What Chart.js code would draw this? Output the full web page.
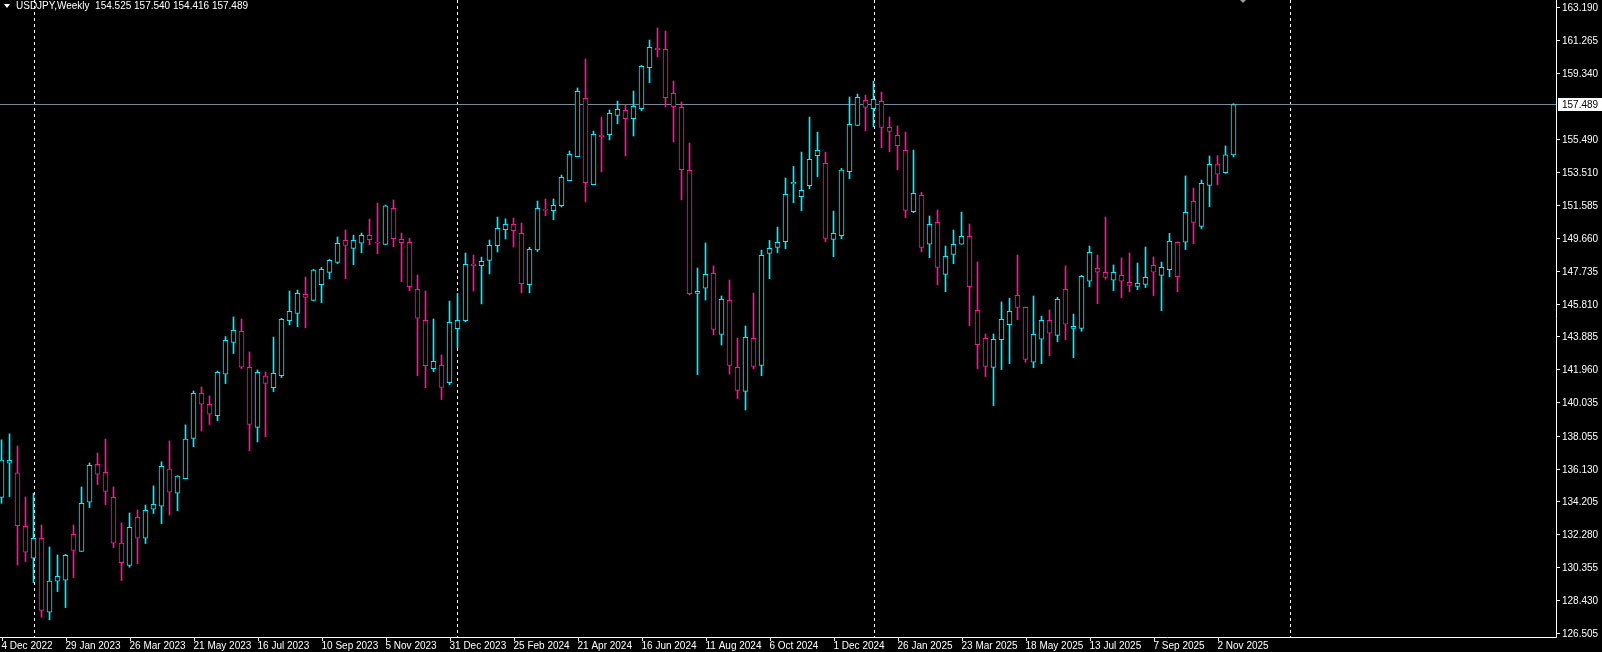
<!DOCTYPE html>
<html><head><meta charset="utf-8">
<script src="https://cdn.jsdelivr.net/npm/chart.js@4"></script>
<style>html,body{margin:0;padding:0;background:#000;overflow:hidden}canvas{display:block}</style>
</head><body>
<canvas id="c" width="1602" height="652"></canvas>
<script>
const opens=[134.45,136.45,135.88,132.75,130.88,132.05,127.71,129.53,129.59,132.28,131.27,134.16,136.39,135.92,134.45,131.76,130.45,133.28,132.05,133.75,133.93,136.10,134.69,135.55,137.91,140.55,139.91,139.24,141.67,143.54,144.19,142.08,138.55,141.56,140.88,141.58,144.81,145.24,146.35,146.00,146.92,147.64,148.23,149.52,149.05,149.35,149.81,149.40,149.28,151.40,149.58,149.40,146.65,144.83,141.99,142.19,141.17,144.34,144.81,148.13,148.03,148.35,149.21,150.15,150.46,149.93,146.92,148.96,151.34,151.26,151.56,153.02,154.43,157.85,152.79,155.68,155.72,156.85,157.15,156.66,157.24,159.65,160.78,160.72,158.14,157.32,153.63,146.41,146.71,147.59,144.01,146.00,142.07,140.66,143.77,142.19,148.76,149.11,149.44,152.84,152.08,152.73,154.49,154.04,149.58,149.79,153.55,156.26,157.73,157.24,157.67,156.15,155.68,154.80,151.20,152.16,149.29,150.58,147.53,148.70,149.29,149.75,145.42,143.78,142.07,143.70,144.58,146.30,145.59,142.37,143.72,144.83,143.95,146.65,144.36,144.36,147.12,147.88,147.65,147.18,147.47,147.06,146.82,146.94,148.06,147.47,147.80,149.41,149.41,151.81,150.34,152.75,154.00,153.49,154.525];
const highs=[137.82,138.17,137.46,134.47,134.69,132.83,131.54,131.07,131.11,132.83,135.06,136.47,137.05,137.87,135.06,132.95,133.53,133.71,134.00,135.12,136.53,137.76,135.72,138.70,140.69,140.92,140.40,141.86,143.88,145.03,144.91,142.98,141.92,141.80,143.85,144.95,146.55,146.61,147.37,147.82,147.94,148.41,149.72,150.13,149.83,149.95,150.77,151.71,151.59,151.89,149.95,149.64,147.49,146.55,144.91,142.80,145.96,146.41,148.78,148.66,148.54,149.54,150.89,150.78,150.83,150.54,149.11,151.83,151.95,151.95,153.35,154.76,158.46,160.16,155.93,156.76,157.17,157.69,157.46,158.28,159.79,161.27,161.98,161.80,158.87,157.64,155.23,147.90,149.37,148.02,146.26,147.20,143.79,144.50,146.43,148.95,149.52,150.30,153.18,153.86,154.70,156.75,155.87,154.70,151.24,153.74,157.93,158.10,158.04,158.86,158.22,156.75,156.23,155.87,154.82,152.34,150.95,151.30,149.19,150.13,151.18,150.48,148.25,144.03,144.03,145.91,146.12,148.66,145.62,146.26,145.08,145.44,146.18,148.02,145.20,147.47,149.19,148.66,150.89,148.08,148.49,148.78,148.19,149.13,148.55,148.25,149.93,149.44,153.30,152.59,153.06,154.47,154.49,155.06,157.540];
const lows=[134.10,134.49,130.48,130.68,129.45,127.42,127.26,128.92,127.98,129.74,131.27,133.85,135.20,134.02,131.50,129.57,130.35,130.56,131.74,133.50,132.91,133.42,133.67,135.55,137.42,138.34,138.72,138.95,141.12,142.88,142.00,137.19,137.70,138.01,140.65,141.47,144.56,144.46,144.40,145.98,145.87,147.27,148.15,147.27,148.09,148.80,149.27,148.74,149.27,149.15,147.10,146.57,141.58,140.88,141.82,140.18,141.05,143.23,144.75,146.55,145.79,147.55,148.84,149.60,149.13,146.44,146.44,148.86,150.97,150.72,151.48,153.02,154.43,151.77,152.79,153.53,155.41,156.35,154.47,155.64,157.13,158.77,160.29,157.34,155.29,151.89,146.32,141.65,146.02,143.99,143.38,141.68,140.25,139.57,141.99,141.58,147.27,148.80,149.03,151.73,151.26,152.55,153.25,149.44,148.56,149.62,153.14,156.25,155.95,156.19,154.95,154.72,153.66,150.85,151.14,148.85,148.50,146.92,146.51,148.15,149.29,144.52,142.00,141.53,139.83,141.94,142.29,144.87,142.37,142.05,142.29,142.76,143.58,143.70,142.64,144.19,146.81,145.81,147.24,146.57,146.16,146.51,146.63,146.75,146.28,145.40,147.39,146.51,148.98,149.33,150.21,151.50,152.79,153.45,154.416];
const closes=[136.64,136.62,132.79,131.23,132.05,127.81,129.53,129.82,131.05,131.34,134.10,136.33,135.80,134.79,131.76,130.62,132.69,132.05,133.69,134.04,136.27,134.75,135.69,137.86,140.55,139.91,139.32,141.78,143.66,144.25,142.08,138.73,141.78,141.13,141.72,144.89,145.36,146.41,146.18,147.78,147.82,148.35,149.35,149.23,149.52,149.81,149.56,149.35,151.54,149.62,149.38,146.80,144.95,142.17,142.42,140.90,144.71,144.83,148.11,148.03,148.29,149.23,150.23,150.46,150.09,146.98,148.99,151.40,151.27,151.57,153.22,154.57,158.26,152.90,155.74,155.60,156.97,157.21,156.66,157.38,159.73,160.84,160.71,157.89,157.36,153.67,146.39,146.53,147.53,144.30,146.06,142.19,140.72,143.83,142.13,148.64,149.05,149.40,152.22,152.92,152.45,154.27,154.80,149.64,149.93,153.64,156.32,157.91,157.32,157.79,156.15,155.91,155.07,151.28,152.28,149.11,150.46,147.94,148.58,149.29,149.75,146.80,143.40,142.13,143.72,144.89,145.36,145.59,142.54,144.01,144.83,144.07,146.06,144.60,144.48,147.41,148.82,147.65,147.35,147.65,147.12,146.88,147.00,147.35,147.65,147.94,149.46,147.39,151.16,150.58,152.87,153.98,153.40,154.53,157.489];
const dateLabels=["4 Dec 2022","29 Jan 2023","26 Mar 2023","21 May 2023","16 Jul 2023","10 Sep 2023","5 Nov 2023","31 Dec 2023","25 Feb 2024","21 Apr 2024","16 Jun 2024","11 Aug 2024","6 Oct 2024","1 Dec 2024","26 Jan 2025","23 Mar 2025","18 May 2025","13 Jul 2025","7 Sep 2025","2 Nov 2025"];
const dateLabelStep=8;
const yearSeparators=[4,57,109,161];
const priceTicks=[163.190,161.265,159.340,155.490,153.510,151.585,149.660,147.735,145.810,143.885,141.960,140.035,138.055,136.130,134.205,132.280,130.355,128.430,126.505];
const lastPrice=157.489;
const title="USDJPY,Weekly  154.525 157.540 154.416 157.489";

const UP='#00f0ff', DN='#ff1493';
const col=i=>closes[i]>=opens[i]?UP:DN;
const wickData=opens.map((o,i)=>({x:i,y:[lows[i],highs[i]]}));
const bodyData=opens.map((o,i)=>({x:i,y:[o,closes[i]]}));
const FONT='10px "Liberation Sans", Arial, sans-serif';

const deco={
  id:'deco',
  beforeDatasetsDraw(ch){
    const c=ch.ctx,xs=ch.scales.x,ys=ch.scales.y,a=ch.chartArea;
    c.save();
    c.strokeStyle='#ffffff';c.lineWidth=1;c.setLineDash([3,3]);
    yearSeparators.forEach(i=>{const x=Math.round(xs.getPixelForValue(i))+0.5;
      c.beginPath();c.moveTo(x,a.top);c.lineTo(x,a.bottom);c.stroke();});
    c.setLineDash([]);
    const py=Math.round(ys.getPixelForValue(lastPrice))+0.5;
    c.strokeStyle='#778899';c.beginPath();c.moveTo(a.left,py);c.lineTo(a.right,py);c.stroke();
    c.restore();
  },
  afterDraw(ch){
    const c=ch.ctx,xs=ch.scales.x,ys=ch.scales.y,a=ch.chartArea;
    c.save();
    c.strokeStyle='#ffffff';c.lineWidth=1;
    c.beginPath();c.moveTo(a.right+0.5,0);c.lineTo(a.right+0.5,a.bottom+0.5);c.lineTo(0,a.bottom+0.5);c.stroke();
    c.font=FONT;c.fillStyle='#ffffff';c.textBaseline='middle';c.textAlign='left';
    priceTicks.forEach(p=>{const y=Math.round(ys.getPixelForValue(p))+0.5;
      c.beginPath();c.moveTo(a.right,y);c.lineTo(a.right+4,y);c.stroke();
      c.fillText(p.toFixed(3),a.right+6,y+0.5);});
    const py=Math.round(ys.getPixelForValue(lastPrice));
    c.fillStyle='#ffffff';c.fillRect(a.right+2,py-6,44,13);
    c.fillStyle='#000000';c.fillText(lastPrice.toFixed(3),a.right+6,py+1);
    c.fillStyle='#ffffff';c.textBaseline='alphabetic';
    dateLabels.forEach((t,k)=>{const x=Math.round(xs.getPixelForValue(k*dateLabelStep))+0.5;
      c.beginPath();c.moveTo(x,a.bottom);c.lineTo(x,a.bottom+4);c.stroke();
      c.fillText(t,x-1,a.bottom+12);});
    // title
    c.beginPath();c.moveTo(4,4);c.lineTo(10,4);c.lineTo(7,8);c.closePath();c.fill();
    c.textBaseline='middle';c.fillText(title,16,6.5);
    // shift marker
    const mx=Math.round(xs.getPixelForValue(155.2));
    c.fillStyle='#9a9a9a';c.beginPath();c.moveTo(mx-3,0);c.lineTo(mx+3,0);c.lineTo(mx,3);c.closePath();c.fill();
    c.restore();
  }
};

new Chart(document.getElementById('c'),{
  type:'bar',
  data:{datasets:[
    {data:wickData,grouped:false,barThickness:1,backgroundColor:ctx=>col(ctx.dataIndex),borderWidth:0,order:2},
    {data:bodyData,grouped:false,barThickness:5,minBarLength:1,backgroundColor:'#000000',borderColor:ctx=>col(ctx.dataIndex),borderWidth:1,borderSkipped:false,order:1}
  ]},
  options:{
    responsive:false,animation:false,devicePixelRatio:1,
    layout:{padding:{left:0,right:46,top:0,bottom:15}},
    plugins:{legend:{display:false},tooltip:{enabled:false}},
    scales:{
      x:{type:'linear',display:false,offset:false,min:-0.1875,max:194.3125},
      y:{display:false,min:126.257,max:163.618}
    }
  },
  plugins:[deco]
});
</script>
</body></html>
